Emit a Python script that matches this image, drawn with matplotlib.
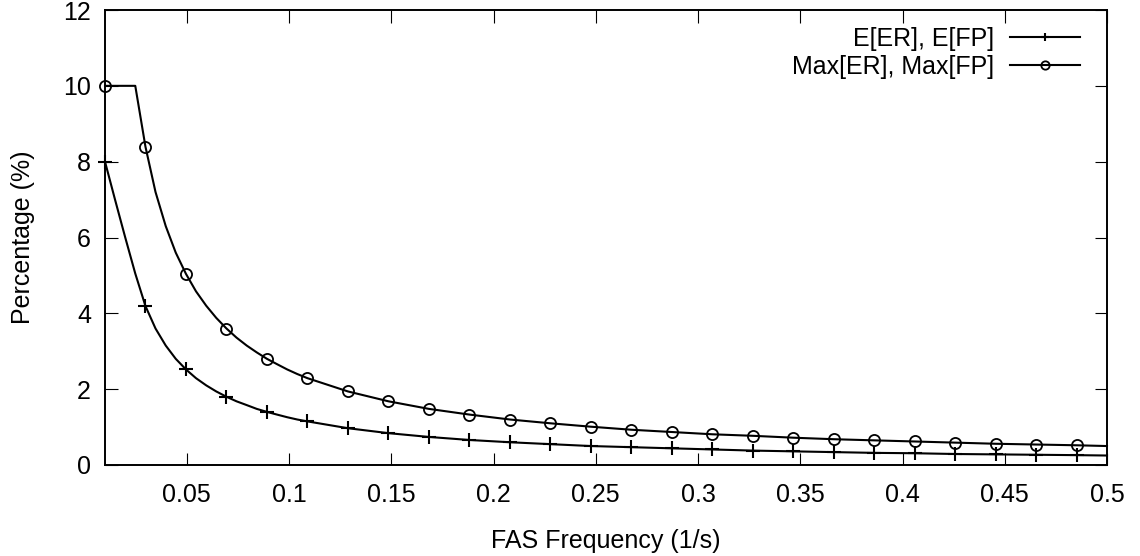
import matplotlib
matplotlib.use("Agg")
import matplotlib.pyplot as plt
from matplotlib.ticker import MultipleLocator, FormatStrFormatter

# sample positions (1/s), fine where the curves are steep
freq = [0.0100, 0.0149, 0.0199, 0.0248, 0.0298, 0.0347, 0.0397, 0.0446,
        0.0496, 0.0545, 0.0595, 0.0644, 0.0694, 0.0743, 0.0793, 0.0842,
        0.0892, 0.0941, 0.0991, 0.1040, 0.1090, 0.1288, 0.1486, 0.1684,
        0.1882, 0.2080, 0.2278, 0.2476, 0.2674, 0.2872, 0.3070, 0.3268,
        0.3466, 0.3664, 0.3862, 0.4060, 0.4258, 0.4456, 0.4654, 0.4852,
        0.5000]

expected = [8.00, 7.00, 6.00, 5.05, 4.19, 3.60, 3.15, 2.80,
            2.52, 2.29, 2.10, 1.94, 1.80, 1.68, 1.58, 1.48,
            1.40, 1.33, 1.26, 1.20, 1.15, 0.97, 0.84, 0.74,
            0.66, 0.60, 0.55, 0.50, 0.47, 0.44, 0.41, 0.38,
            0.36, 0.34, 0.32, 0.31, 0.29, 0.28, 0.27, 0.26,
            0.25]

maximum = [10.00, 10.00, 10.00, 10.00, 8.39, 7.20, 6.30, 5.60,
           5.04, 4.58, 4.20, 3.88, 3.60, 3.36, 3.15, 2.97,
           2.80, 2.66, 2.52, 2.40, 2.29, 1.94, 1.68, 1.48,
           1.33, 1.20, 1.10, 1.01, 0.93, 0.87, 0.81, 0.77,
           0.72, 0.68, 0.65, 0.62, 0.59, 0.56, 0.54, 0.52,
           0.50]

# marker at every 4th sample of the original grid
marks = [0, 4, 8, 12, 16, 20] + list(range(21, 40))

plt.rcParams["font.family"] = ["Liberation Sans", "DejaVu Sans"]
plt.rcParams["font.size"] = 18

fig = plt.figure(figsize=(11.4, 5.56), dpi=100)
ax = fig.add_axes([105 / 1140, 1 - 465 / 556, 1002 / 1140, 455 / 556])

ax.plot(freq, expected, color="black", lw=1.5, marker="+", ms=10, mew=1.5,
        markevery=marks, label="E[ER], E[FP]", clip_on=False)
ax.plot(freq, maximum, color="black", lw=1.5, marker="o", ms=8, mew=1.3,
        mfc="none", markevery=marks, label="Max[ER], Max[FP]", clip_on=False)

ax.set_xlim(0.01, 0.5)
ax.set_ylim(0, 12)
ax.xaxis.set_major_locator(MultipleLocator(0.05))
ax.xaxis.set_major_formatter(FormatStrFormatter("%g"))
ax.yaxis.set_major_locator(MultipleLocator(2))

ax.tick_params(direction="in", length=9, width=0.8, top=True, right=True)
ax.tick_params(axis="x", pad=13)
ax.tick_params(axis="y", pad=10)
for s in ax.spines.values():
    s.set_linewidth(1.4)

ax.set_xlabel("FAS Frequency (1/s)", labelpad=16)
ax.set_ylabel("Percentage (%)", labelpad=20)

leg = ax.legend(loc="upper right", bbox_to_anchor=(1080 / 1140, 1 - 27 / 556),
                bbox_transform=fig.transFigure, frameon=False, markerfirst=False,
                handlelength=2.8, handletextpad=0.65, labelspacing=0.15,
                borderpad=0, borderaxespad=0, numpoints=1)
for h in leg.legend_handles:
    h.set_markersize(6)

fig.savefig("out.png", dpi=100)
